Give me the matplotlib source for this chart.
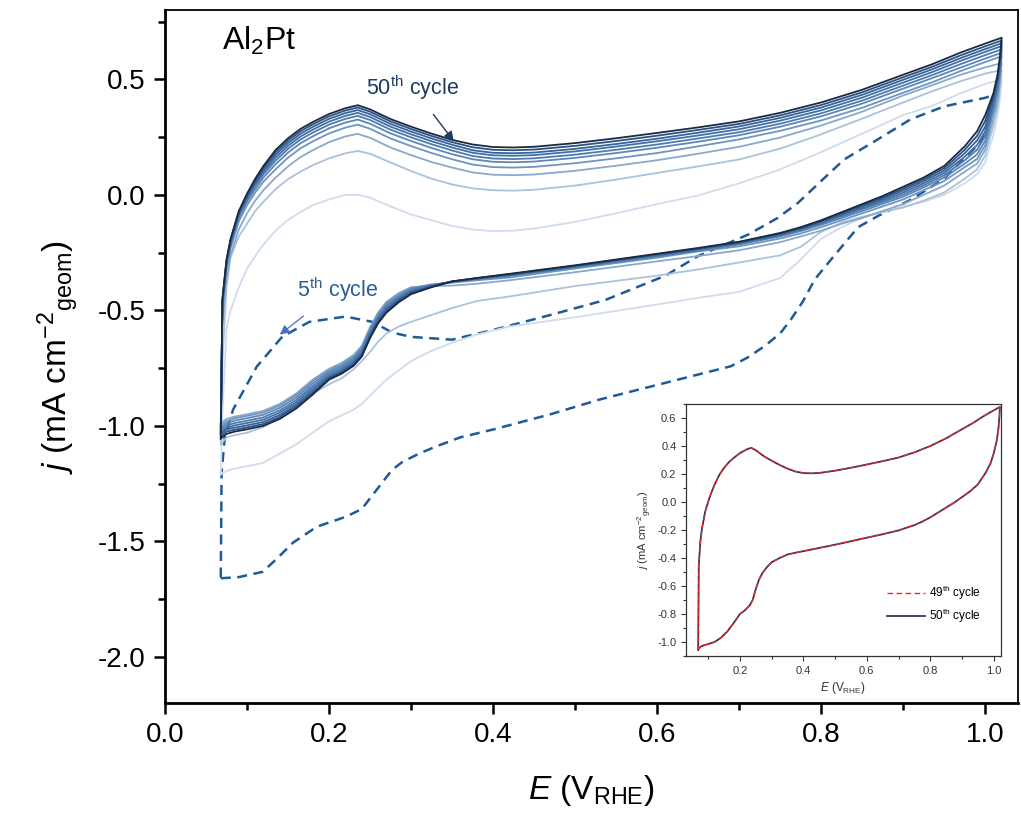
import matplotlib.pyplot as plt
from matplotlib.ticker import MultipleLocator
from matplotlib.lines import Line2D

plt.rcParams['font.family'] = ['Liberation Sans', 'DejaVu Sans']
plt.rcParams['mathtext.fontset'] = 'custom'
plt.rcParams['mathtext.rm'] = 'Liberation Sans'
plt.rcParams['mathtext.it'] = 'Liberation Sans:italic'
plt.rcParams['mathtext.bf'] = 'Liberation Sans:bold'
plt.rcParams['axes.unicode_minus'] = False

# positive-going sweep, one row per plotted cycle, lightest -> darkest (50th)
up_E = [0.068, 0.07, 0.075, 0.08, 0.09, 0.10, 0.11, 0.12, 0.135, 0.15, 0.165, 0.18,
        0.20, 0.22, 0.235, 0.25, 0.275, 0.30, 0.325, 0.35, 0.375, 0.40, 0.425, 0.45,
        0.50, 0.55, 0.60, 0.65, 0.70, 0.75, 0.80, 0.85, 0.90, 0.935, 0.97, 1.0, 1.02]
up_j = [
    [-1.21, -0.95, -0.58, -0.50, -0.40, -0.32, -0.265, -0.215, -0.155, -0.108, -0.075, -0.045,
     -0.02, 0.0, 0.0, -0.012, -0.05, -0.085, -0.11, -0.135, -0.15, -0.157, -0.155, -0.146,
     -0.117, -0.08, -0.04, -0.003, 0.05, 0.11, 0.185, 0.265, 0.345, 0.385, 0.44, 0.48, 0.50],
    [-1.08, -0.72, -0.40, -0.27, -0.18, -0.125, -0.07, -0.03, 0.025, 0.068, 0.10, 0.128,
     0.158, 0.18, 0.19, 0.178, 0.14, 0.103, 0.07, 0.045, 0.028, 0.02, 0.018, 0.022,
     0.04, 0.066, 0.095, 0.123, 0.153, 0.20, 0.262, 0.33, 0.40, 0.448, 0.492, 0.525, 0.54],
    [-0.99, -0.56, -0.36, -0.26, -0.15, -0.08, -0.025, 0.02, 0.075, 0.123, 0.163, 0.193,
     0.228, 0.253, 0.264, 0.247, 0.205, 0.172, 0.142, 0.118, 0.097, 0.087, 0.085, 0.088,
     0.104, 0.126, 0.15, 0.178, 0.208, 0.248, 0.30, 0.36, 0.43, 0.474, 0.52, 0.552, 0.57],
    [-1.0, -0.49, -0.32, -0.23, -0.115, -0.045, 0.01, 0.057, 0.111, 0.161, 0.201, 0.231,
     0.266, 0.291, 0.304, 0.286, 0.244, 0.211, 0.181, 0.154, 0.131, 0.12, 0.118, 0.121,
     0.137, 0.158, 0.181, 0.21, 0.24, 0.277, 0.322, 0.377, 0.442, 0.487, 0.536, 0.575, 0.60],
    [-1.01, -0.48, -0.31, -0.22, -0.10, -0.03, 0.025, 0.075, 0.133, 0.183, 0.223, 0.253,
     0.288, 0.313, 0.326, 0.308, 0.266, 0.233, 0.203, 0.176, 0.154, 0.143, 0.141, 0.144,
     0.16, 0.181, 0.204, 0.23, 0.258, 0.295, 0.34, 0.395, 0.46, 0.505, 0.551, 0.59, 0.615],
    [-1.02, -0.47, -0.30, -0.21, -0.09, -0.02, 0.038, 0.089, 0.149, 0.199, 0.239, 0.269,
     0.304, 0.329, 0.342, 0.324, 0.282, 0.249, 0.219, 0.192, 0.168, 0.157, 0.155, 0.158,
     0.174, 0.195, 0.218, 0.244, 0.271, 0.308, 0.353, 0.408, 0.473, 0.518, 0.566, 0.605, 0.63],
    [-1.03, -0.465, -0.295, -0.205, -0.085, -0.013, 0.047, 0.099, 0.162, 0.212, 0.252, 0.282,
     0.317, 0.342, 0.355, 0.337, 0.295, 0.262, 0.232, 0.205, 0.182, 0.171, 0.169, 0.172,
     0.188, 0.209, 0.232, 0.257, 0.284, 0.321, 0.366, 0.421, 0.486, 0.531, 0.58, 0.619, 0.644],
    [-1.035, -0.46, -0.29, -0.20, -0.08, -0.007, 0.055, 0.108, 0.174, 0.224, 0.264, 0.294,
     0.329, 0.354, 0.367, 0.349, 0.307, 0.274, 0.244, 0.217, 0.193, 0.182, 0.18, 0.183,
     0.199, 0.22, 0.243, 0.269, 0.296, 0.333, 0.378, 0.433, 0.498, 0.543, 0.592, 0.631, 0.656],
    [-1.045, -0.455, -0.285, -0.195, -0.075, -0.001, 0.063, 0.117, 0.185, 0.235, 0.275, 0.305,
     0.34, 0.365, 0.378, 0.36, 0.318, 0.285, 0.255, 0.228, 0.206, 0.195, 0.193, 0.196,
     0.212, 0.233, 0.256, 0.281, 0.307, 0.344, 0.389, 0.444, 0.509, 0.554, 0.604, 0.643, 0.668],
    [-1.055, -0.45, -0.28, -0.19, -0.07, 0.005, 0.07, 0.125, 0.195, 0.245, 0.285, 0.315,
     0.35, 0.375, 0.388, 0.37, 0.328, 0.295, 0.265, 0.238, 0.218, 0.207, 0.205, 0.208,
     0.224, 0.245, 0.268, 0.292, 0.318, 0.355, 0.40, 0.455, 0.52, 0.565, 0.616, 0.655, 0.68],
]

# negative-going sweep
dn_E = [1.018, 1.015, 1.01, 1.0, 0.99, 0.975, 0.95, 0.925, 0.90, 0.875,
        0.85, 0.825, 0.80, 0.775, 0.75, 0.70, 0.65, 0.60, 0.50, 0.42,
        0.38, 0.35, 0.325, 0.30, 0.285, 0.27, 0.26, 0.25, 0.24, 0.23,
        0.215, 0.20, 0.18, 0.16, 0.14, 0.12, 0.10, 0.085, 0.075, 0.068]
dn_j = [
    [0.42, 0.34, 0.26, 0.14, 0.09, 0.05, 0.0, -0.03, -0.05, -0.07,
     -0.10, -0.14, -0.19, -0.28, -0.36, -0.42, -0.446, -0.475, -0.53, -0.57,
     -0.605, -0.64, -0.675, -0.72, -0.76, -0.80, -0.835, -0.87, -0.905, -0.93,
     -0.955, -0.98, -1.03, -1.08, -1.12, -1.16, -1.175, -1.185, -1.195, -1.21],
    [0.46, 0.38, 0.30, 0.17, 0.11, 0.07, 0.01, -0.025, -0.055, -0.075,
     -0.095, -0.12, -0.16, -0.225, -0.262, -0.293, -0.323, -0.35, -0.395, -0.44,
     -0.46, -0.49, -0.52, -0.55, -0.57, -0.60, -0.635, -0.68, -0.72, -0.755,
     -0.795, -0.82, -0.86, -0.905, -0.96, -1.005, -1.03, -1.04, -1.05, -1.08],
    [0.49, 0.41, 0.33, 0.195, 0.135, 0.10, 0.04, 0.0, -0.04, -0.07,
     -0.10, -0.125, -0.155, -0.18, -0.205, -0.24, -0.265, -0.288, -0.335, -0.37,
     -0.385, -0.393, -0.395, -0.40, -0.425, -0.463, -0.508, -0.573, -0.653, -0.693,
     -0.728, -0.753, -0.80, -0.86, -0.905, -0.935, -0.95, -0.96, -0.97, -0.99],
    [0.52, 0.44, 0.36, 0.215, 0.155, 0.12, 0.06, 0.02, -0.02, -0.05,
     -0.08, -0.11, -0.14, -0.167, -0.189, -0.223, -0.245, -0.272, -0.319, -0.358,
     -0.37, -0.38, -0.388, -0.403, -0.432, -0.47, -0.515, -0.58, -0.66, -0.70,
     -0.735, -0.76, -0.807, -0.867, -0.912, -0.942, -0.957, -0.967, -0.98, -1.0],
    [0.535, 0.455, 0.375, 0.235, 0.175, 0.135, 0.075, 0.032, -0.008, -0.039,
     -0.07, -0.10, -0.13, -0.157, -0.18, -0.215, -0.242, -0.267, -0.314, -0.351,
     -0.365, -0.377, -0.39, -0.408, -0.438, -0.477, -0.522, -0.587, -0.667, -0.707,
     -0.742, -0.767, -0.817, -0.877, -0.922, -0.952, -0.967, -0.977, -0.99, -1.01],
    [0.55, 0.47, 0.39, 0.255, 0.195, 0.15, 0.085, 0.041, 0.001, -0.031,
     -0.062, -0.093, -0.124, -0.152, -0.176, -0.212, -0.239, -0.264, -0.312, -0.349,
     -0.364, -0.376, -0.392, -0.413, -0.444, -0.485, -0.53, -0.595, -0.675, -0.715,
     -0.75, -0.775, -0.828, -0.888, -0.933, -0.963, -0.978, -0.988, -1.0, -1.02],
    [0.564, 0.484, 0.404, 0.275, 0.215, 0.165, 0.095, 0.05, 0.01, -0.024,
     -0.056, -0.088, -0.12, -0.149, -0.173, -0.209, -0.236, -0.261, -0.31, -0.347,
     -0.363, -0.375, -0.394, -0.418, -0.45, -0.493, -0.538, -0.603, -0.683, -0.723,
     -0.758, -0.783, -0.838, -0.898, -0.943, -0.973, -0.988, -0.998, -1.01, -1.03],
    [0.576, 0.496, 0.416, 0.295, 0.235, 0.18, 0.105, 0.059, 0.019, -0.017,
     -0.05, -0.083, -0.116, -0.146, -0.17, -0.207, -0.234, -0.259, -0.308, -0.345,
     -0.362, -0.375, -0.396, -0.422, -0.455, -0.50, -0.545, -0.61, -0.69, -0.73,
     -0.765, -0.79, -0.848, -0.908, -0.953, -0.983, -0.998, -1.008, -1.015, -1.035],
    [0.588, 0.508, 0.428, 0.32, 0.255, 0.195, 0.115, 0.067, 0.027, -0.011,
     -0.045, -0.079, -0.113, -0.143, -0.168, -0.205, -0.232, -0.257, -0.307, -0.344,
     -0.361, -0.375, -0.398, -0.426, -0.46, -0.505, -0.55, -0.615, -0.695, -0.735,
     -0.77, -0.795, -0.857, -0.917, -0.962, -0.992, -1.007, -1.017, -1.025, -1.045],
    [0.60, 0.52, 0.44, 0.345, 0.275, 0.21, 0.125, 0.075, 0.035, -0.005,
     -0.04, -0.075, -0.11, -0.14, -0.165, -0.203, -0.23, -0.255, -0.305, -0.342,
     -0.36, -0.375, -0.40, -0.43, -0.465, -0.51, -0.555, -0.62, -0.70, -0.74,
     -0.775, -0.80, -0.865, -0.925, -0.97, -1.0, -1.015, -1.025, -1.035, -1.055],
]

cycle_colors = ['#cfdcec', '#aac2dd', '#88a9cd', '#6d95c0', '#5c87b7', '#4e7bae',
                '#4270a4', '#37649a', '#2b5287', '#1b2a40']

# 5th cycle (dashed)
c5_up_E = [0.068, 0.09, 0.119, 0.135, 0.156, 0.185, 0.221, 0.24, 0.253, 0.265, 0.277, 0.29,
           0.31, 0.33, 0.36, 0.40, 0.47, 0.53, 0.61, 0.69, 0.71, 0.731, 0.75, 0.763, 0.778,
           0.792, 0.812, 0.845, 0.87, 0.91, 0.95, 0.994, 1.011, 1.018]
c5_up_j = [-1.66, -1.655, -1.632, -1.58, -1.506, -1.437, -1.393, -1.36, -1.30, -1.245, -1.19,
           -1.155, -1.12, -1.09, -1.05, -1.016, -0.95, -0.886, -0.814, -0.742, -0.705, -0.655,
           -0.60, -0.54, -0.46, -0.367, -0.28, -0.14, -0.09, -0.02, 0.07, 0.227, 0.357, 0.44]
c5_dn_E = [1.0, 0.95, 0.909, 0.869, 0.828, 0.80, 0.772, 0.747, 0.711, 0.65, 0.61, 0.537,
           0.47, 0.40, 0.35, 0.30, 0.277, 0.253, 0.22, 0.176, 0.143, 0.112, 0.083, 0.073,
           0.069, 0.068]
c5_dn_j = [0.42, 0.383, 0.327, 0.24, 0.153, 0.06, -0.034, -0.10, -0.172, -0.265, -0.35, -0.455,
           -0.52, -0.585, -0.627, -0.615, -0.596, -0.55, -0.527, -0.55, -0.614, -0.743, -0.93,
           -1.047, -1.2, -1.66]

fig = plt.figure(figsize=(10.21, 8.23), dpi=100)
ax = fig.add_axes([0.1616, 0.1458, 0.8355, 0.8420])

ax.plot(c5_up_E + c5_dn_E, c5_up_j + c5_dn_j, color='#1f5a96', lw=1.8,
        dashes=(4, 2.6))
for i in range(len(up_j)):
    ax.plot(up_E + dn_E, up_j[i] + dn_j[i], color=cycle_colors[i], lw=1.3)

ax.set_xlim(0, 1.04)
ax.set_ylim(-2.2, 0.8)
ax.xaxis.set_major_locator(MultipleLocator(0.2))
ax.xaxis.set_minor_locator(MultipleLocator(0.1))
ax.yaxis.set_major_locator(MultipleLocator(0.5))
ax.yaxis.set_minor_locator(MultipleLocator(0.25))
ax.tick_params(which='both', direction='out', width=1.8, top=False, right=False)
ax.tick_params(which='major', length=8, labelsize=20, pad=6)
ax.tick_params(which='minor', length=5)
for s in ['left', 'bottom']:
    ax.spines[s].set_linewidth(2.0)
for s in ['top', 'right']:
    ax.spines[s].set_linewidth(1.3)

ax.set_xlabel(r'$E$ (V$_{\mathrm{RHE}}$)', fontsize=24, labelpad=18)
ax.set_ylabel(r'$j$ (mA cm$^{-2}$$_{\mathrm{geom}}$)', fontsize=24, labelpad=12)

ax.text(0.069, 0.665, r'Al$_2$Pt', fontsize=23, va='center', ha='left')

ax.annotate(r'50$^{\mathrm{th}}$ cycle', xy=(0.352, 0.233), xytext=(0.302, 0.465),
            fontsize=15.5, color='#1f3b63', ha='center', va='center',
            arrowprops=dict(arrowstyle='-|>', color='#1f3b63', lw=1.0,
                            mutation_scale=14, shrinkA=9, shrinkB=0))
ax.annotate(r'5$^{\mathrm{th}}$ cycle', xy=(0.14, -0.605), xytext=(0.21, -0.41),
            fontsize=15.5, color='#2a5d94', ha='center', va='center',
            arrowprops=dict(arrowstyle='-|>', color='#4a72c4', lw=0.9,
                            mutation_scale=14, shrinkA=11, shrinkB=0))

# inset: 49th vs 50th cycle
axi = fig.add_axes([0.672, 0.203, 0.308, 0.306])
axi.plot(up_E + dn_E, up_j[-1] + dn_j[-1], color='#2e3a57', lw=1.3)
axi.plot(up_E + dn_E, up_j[-1] + dn_j[-1], color='#ff2020', lw=0.9, dashes=(4, 2.5))
axi.set_xlim(0.03, 1.022)
axi.set_ylim(-1.1, 0.7)
axi.xaxis.set_major_locator(MultipleLocator(0.2))
axi.xaxis.set_minor_locator(MultipleLocator(0.1))
axi.yaxis.set_major_locator(MultipleLocator(0.2))
axi.yaxis.set_minor_locator(MultipleLocator(0.1))
axi.tick_params(which='both', direction='out', width=0.8, colors='#333333',
                labelsize=8, top=False, right=False)
axi.tick_params(which='major', length=3.5)
axi.tick_params(which='minor', length=2)
for s in axi.spines.values():
    s.set_linewidth(0.9)
    s.set_color('#333333')
axi.set_xlabel(r'$E$ (V$_{\mathrm{RHE}}$)', fontsize=8.5, color='#333333', labelpad=3)
axi.set_ylabel(r'$j$ (mA cm$^{-2}$$_{\mathrm{geom}}$)', fontsize=8, color='#333333', labelpad=2)
handles = [Line2D([], [], color='#ff2020', lw=1.0, dashes=(4, 2.5)),
           Line2D([], [], color='#2e3a57', lw=1.3)]
axi.legend(handles, [r'49$^{\mathrm{th}}$ cycle', r'50$^{\mathrm{th}}$ cycle'],
           loc='lower right', frameon=False, fontsize=8.5, handlelength=3.2,
           handletextpad=0.3, labelspacing=0.4, bbox_to_anchor=(0.97, 0.08))

fig.savefig('out.png', dpi=100)
